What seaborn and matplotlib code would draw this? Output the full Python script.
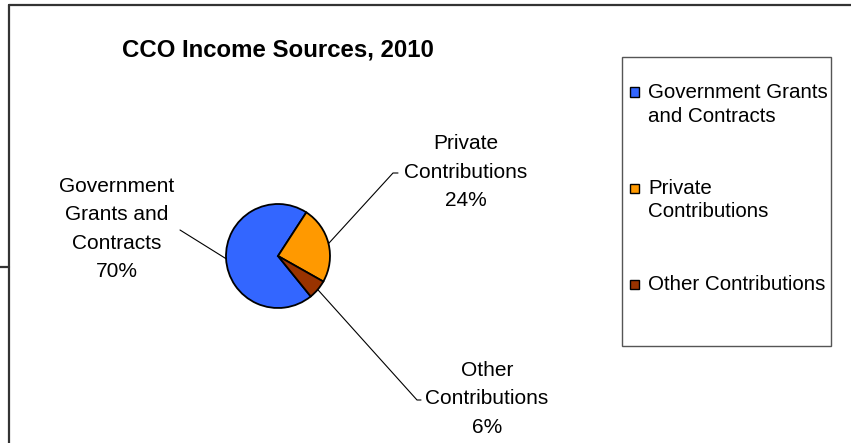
import matplotlib
matplotlib.use("Agg")
import matplotlib.pyplot as plt
import seaborn as sns
import numpy as np
from matplotlib.patches import Rectangle
from matplotlib.lines import Line2D

categories = ["Government Grants and Contracts", "Private Contributions", "Other Contributions"]
values = [70, 24, 6]
pie_labels = ["Government\nGrants and\nContracts", "Private\nContributions", "Other\nContributions"]
legend_labels = ["Government Grants\nand Contracts", "Private\nContributions", "Other Contributions"]
colors = ["#3366FF", "#FF9900", "#993300"]
title = "CCO Income Sources, 2010"

sns.set_theme(style="white")
plt.rcParams["font.family"] = ["Liberation Sans", "DejaVu Sans"]

W, H = 851, 443
fig = plt.figure(figsize=(W / 100, H / 100), dpi=100)
fig.patch.set_facecolor("white")

# pie geometry in pixels
CX, CY, R = 278, 256, 52

def px(x, y):
    return ((x - CX) / R, (CY - y) / R)

def fx(x, y):
    return (x / W, 1 - y / H)

ax = fig.add_axes([0, 0, 1, 1])
wedges, _ = ax.pie(values, colors=colors, startangle=-51, counterclock=False,
                   radius=1, center=(0, 0),
                   wedgeprops=dict(edgecolor="black", linewidth=1.3))
ax.set_xlim(-CX / R, (W - CX) / R)
ax.set_ylim(-(H - CY) / R, CY / R)
ax.axis("off")

# data labels with leader lines
label_centers = [(117, 229), (466, 172), (487, 399)]
elbows = [[(180, 230)], [(393, 173), (398, 173)], [(417, 400), (421, 400)]]
for w, v, lab, (lx, ly), elb in zip(wedges, values, pie_labels, label_centers, elbows):
    mid = np.deg2rad((w.theta1 + w.theta2) / 2)
    pts = [(np.cos(mid), np.sin(mid))] + [px(*p) for p in elb]
    xs, ys = zip(*pts)
    ax.plot(xs, ys, color="black", lw=0.8)
    tx, ty = px(lx, ly)
    ax.text(tx, ty, f"{lab}\n{v}%", ha="center", va="center", fontsize=15,
            linespacing=1.63, color="black")

# title
fig.text(*fx(278, 50), title, ha="center", va="center", fontsize=17.3,
         fontweight="bold", color="black")

# legend box
x0, y0 = fx(622, 346)
fig.add_artist(Rectangle((x0, y0), (831 - 622) / W, (346 - 57) / H,
                         transform=fig.transFigure, facecolor="none",
                         edgecolor="#555555", linewidth=1.0))
entry_first_line = [92, 188, 284]
entry_centers = [104.5, 200, 284]
for c, lab, yl, yc in zip(colors, legend_labels, entry_first_line, entry_centers):
    mx, my = fx(630, yl + 4.5)
    fig.add_artist(Rectangle((mx, my), 9 / W, 9 / H, transform=fig.transFigure,
                             facecolor=c, edgecolor="black", linewidth=1.0))
    fig.text(*fx(648, yc), lab, ha="left", va="center", fontsize=14.8,
             linespacing=1.33, color="black")

# outer chart frame
frame_kw = dict(transform=fig.transFigure, color="#333333", linewidth=1.6)
fig.add_artist(Line2D([9 / W, 1], [1 - 5 / H, 1 - 5 / H], **frame_kw))
fig.add_artist(Line2D([9 / W, 9 / W], [1 - 5 / H, 0], **frame_kw))
fig.add_artist(Line2D([0, 9 / W], [1 - 267 / H, 1 - 267 / H], **frame_kw))

fig.savefig("out.png", dpi=100, facecolor="white")
